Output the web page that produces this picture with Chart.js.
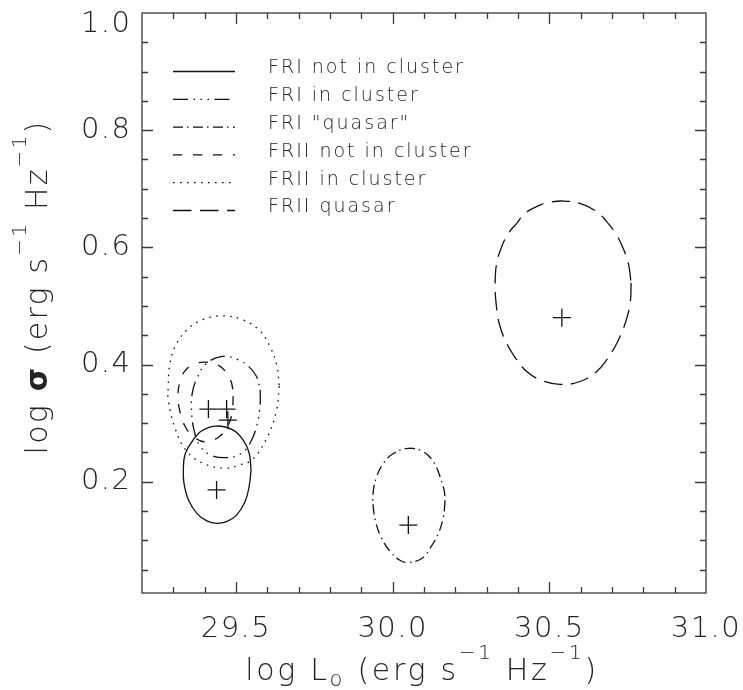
<!DOCTYPE html>
<html><head><meta charset="utf-8">
<script src="https://cdn.jsdelivr.net/npm/chart.js@4.4.1/dist/chart.umd.min.js"></script>
<style>html,body{margin:0;padding:0;background:#fff;}#wrap{width:743px;height:690px;position:relative;}</style>
</head><body><div id="wrap"><canvas id="c" width="743" height="690"></canvas></div>
<script>
// ---------- data ----------
const seriesLabels = ['FRI not in cluster', 'FRI in cluster', 'FRI "quasar"', 'FRII not in cluster', 'FRII in cluster', 'FRII quasar'];

const friNotInClusterX = [29.548, 29.542, 29.529, 29.502, 29.470, 29.438, 29.407, 29.375, 29.348, 29.334, 29.332, 29.337, 29.359, 29.391, 29.438, 29.491, 29.523, 29.542];
const friNotInClusterY = [0.220, 0.192, 0.166, 0.143, 0.132, 0.129, 0.133, 0.146, 0.169, 0.197, 0.220, 0.246, 0.268, 0.287, 0.295, 0.288, 0.271, 0.249];

const friInClusterX = [29.577, 29.577, 29.567, 29.545, 29.513, 29.465, 29.417, 29.385, 29.366, 29.358, 29.361, 29.376, 29.404, 29.455, 29.507, 29.542, 29.566];
const friInClusterY = [0.357, 0.331, 0.297, 0.266, 0.247, 0.241, 0.246, 0.261, 0.288, 0.322, 0.353, 0.377, 0.401, 0.414, 0.408, 0.396, 0.379];

const friQuasarX = [30.167, 30.162, 30.146, 30.119, 30.093, 30.050, 30.023, 29.992, 29.965, 29.947, 29.938, 29.938, 29.949, 29.970, 30.002, 30.050, 30.098, 30.130, 30.151, 30.165];
const friQuasarY = [0.166, 0.140, 0.112, 0.086, 0.069, 0.062, 0.066, 0.081, 0.103, 0.129, 0.157, 0.183, 0.209, 0.231, 0.248, 0.257, 0.251, 0.234, 0.209, 0.183];

const friiNotInClusterX = [29.491, 29.489, 29.478, 29.449, 29.404, 29.366, 29.337, 29.320, 29.315, 29.320, 29.337, 29.369, 29.404, 29.443, 29.468, 29.486];
const friiNotInClusterY = [0.346, 0.326, 0.300, 0.278, 0.268, 0.276, 0.295, 0.322, 0.348, 0.368, 0.389, 0.401, 0.404, 0.399, 0.387, 0.368];

const friiInClusterX = [29.638, 29.629, 29.597, 29.551, 29.513, 29.468, 29.396, 29.340, 29.305, 29.284, 29.284, 29.288, 29.305, 29.343, 29.391, 29.455, 29.523, 29.577, 29.609, 29.630];
const friiInClusterY = [0.363, 0.321, 0.273, 0.237, 0.229, 0.223, 0.231, 0.254, 0.292, 0.339, 0.365, 0.398, 0.430, 0.459, 0.476, 0.483, 0.476, 0.457, 0.430, 0.399];

const friiQuasarX = [30.761, 30.758, 30.742, 30.715, 30.683, 30.651, 30.598, 30.534, 30.470, 30.428, 30.396, 30.364, 30.340, 30.330, 30.327, 30.332, 30.348, 30.369, 30.396, 30.422, 30.470, 30.500, 30.545, 30.598, 30.651, 30.683, 30.710, 30.731, 30.752];
const friiQuasarY = [0.539, 0.505, 0.470, 0.436, 0.408, 0.388, 0.371, 0.366, 0.374, 0.388, 0.408, 0.436, 0.470, 0.505, 0.539, 0.573, 0.601, 0.624, 0.641, 0.658, 0.672, 0.677, 0.679, 0.675, 0.661, 0.644, 0.625, 0.604, 0.573];

// best-fit positions (crosses), same order as seriesLabels
const bestFitX = [29.438, 29.470, 30.050, 29.412, 29.474, 30.540];
const bestFitY = [0.186, 0.324, 0.126, 0.324, 0.305, 0.480];

const xTickValues = [29.5, 30.0, 30.5, 31.0];
const yTickValues = [0.2, 0.4, 0.6, 0.8, 1.0];
const xRange = [29.2, 31.0];
const yRange = [0.01, 1.0];
const xMinorStep = 0.1;
const yMinorStep = 0.05;

// ---------- styles ----------
const FONT = "'DejaVu Sans', 'Liberation Sans', sans-serif";
const INK = '#111';
const dashes = [[], [15, 5.5, 1.5, 5.5, 1.5, 5.5, 1.5, 5.5], [10, 4, 1.5, 4.5], [9.3, 10.7], [1.6, 5.4], [18.5, 8.5]];
const contourX = [friNotInClusterX, friInClusterX, friQuasarX, friiNotInClusterX, friiInClusterX, friiQuasarX];
const contourY = [friNotInClusterY, friInClusterY, friQuasarY, friiNotInClusterY, friiInClusterY, friiQuasarY];

const datasets = seriesLabels.map((label, i) => {
  const pts = contourX[i].map((x, j) => ({x: x, y: contourY[i][j]}));
  pts.push(pts[0]); // close the contour
  return {label, data: pts, showLine: true, tension: 0.4, pointRadius: 0, pointHoverRadius: 0,
    borderColor: INK, borderWidth: 1.3, borderDash: dashes[i], fill: false};
});
datasets.push({label: 'best fit', data: bestFitX.map((x, j) => ({x: x, y: bestFitY[j]})),
  showLine: false, pointStyle: 'cross', pointRadius: 9, borderColor: INK, borderWidth: 1.3, backgroundColor: INK});

// ---------- plugins ----------
function drawRich(ctx, parts, cx, baseY, spacing) {
  ctx.letterSpacing = spacing + 'px';
  let total = 0;
  parts.forEach(p => { ctx.font = (p.bold ? 'bold ' : '200 ') + p.size + 'px ' + FONT; p.w = ctx.measureText(p.t).width; total += p.w; });
  let x = cx - total / 2;
  ctx.textAlign = 'left'; ctx.textBaseline = 'alphabetic';
  parts.forEach(p => { ctx.font = (p.bold ? 'bold ' : '200 ') + p.size + 'px ' + FONT; ctx.fillText(p.t, x, baseY + (p.dy || 0)); x += p.w; });
}

const decor = {
  id: 'decor',
  beforeDraw(chart) { chart.ctx.letterSpacing = '1.5px'; },
  afterDraw(chart) {
    const {ctx, chartArea: a, scales} = chart;
    const xs = scales.x, ys = scales.y;
    ctx.save();
    ctx.letterSpacing = '0px';
    // frame and tick marks on all four sides
    ctx.strokeStyle = '#3a3a3a'; ctx.lineWidth = 1.3; ctx.setLineDash([]);
    ctx.strokeRect(a.left, a.top, a.right - a.left, a.bottom - a.top);
    ctx.beginPath();
    const nx = Math.round((xRange[1] - xRange[0]) / xMinorStep);
    for (let i = 1; i < nx; i++) {
      const v = xRange[0] + i * xMinorStep;
      const len = xTickValues.some(t => Math.abs(t - v) < 1e-6) ? 11 : 6;
      const px = Math.round(xs.getPixelForValue(v)) + 0.5;
      ctx.moveTo(px, a.bottom); ctx.lineTo(px, a.bottom - len);
      ctx.moveTo(px, a.top); ctx.lineTo(px, a.top + len);
    }
    for (let k = 1; k * yMinorStep < yRange[1] - 1e-6; k++) {
      const v = k * yMinorStep;
      if (v < yRange[0]) continue;
      const len = yTickValues.some(t => Math.abs(t - v) < 1e-6) ? 11 : 6;
      const py = Math.round(ys.getPixelForValue(v)) + 0.5;
      ctx.moveTo(a.left, py); ctx.lineTo(a.left + len, py);
      ctx.moveTo(a.right, py); ctx.lineTo(a.right - len, py);
    }
    ctx.stroke();

    // legend inside the plot
    ctx.strokeStyle = INK; ctx.lineWidth = 1.3;
    ctx.fillStyle = '#222';
    ctx.font = '200 19px ' + FONT;
    ctx.textAlign = 'left'; ctx.textBaseline = 'middle';
    seriesLabels.forEach((lab, i) => {
      const ly = 71.5 + 27.8 * i;
      ctx.setLineDash(dashes[i]);
      ctx.beginPath(); ctx.moveTo(173, ly); ctx.lineTo(235, ly); ctx.stroke();
      ctx.letterSpacing = '2px';
      ctx.fillText(lab, 268, ly - 3);
      ctx.letterSpacing = '0px';
    });
    ctx.setLineDash([]);

    // axis titles
    ctx.fillStyle = '#222';
    const cx = (a.left + a.right) / 2;
    drawRich(ctx, [
      {t: 'log L', size: 30}, {t: 'o', size: 21, dy: 6}, {t: ' (erg s', size: 30},
      {t: '\u22121', size: 20, dy: -21}, {t: ' Hz', size: 30}, {t: '\u22121', size: 20, dy: -21}, {t: ')', size: 30}
    ], cx - 2, 680, 2.7);
    ctx.save();
    ctx.translate(47, 287);
    ctx.rotate(-Math.PI / 2);
    drawRich(ctx, [
      {t: 'log ', size: 30}, {t: '\u03C3', size: 30, bold: true}, {t: ' (erg s', size: 30},
      {t: '\u22121', size: 20, dy: -21}, {t: ' Hz', size: 30}, {t: '\u22121', size: 20, dy: -21}, {t: ')', size: 30}
    ], 0, 0, 2.2);
    ctx.restore();
    ctx.restore();
    ctx.letterSpacing = '0px';
  }
};

new Chart(document.getElementById('c'), {
  type: 'scatter',
  data: {datasets},
  options: {
    responsive: false, animation: false, devicePixelRatio: 1,
    layout: {padding: {top: 13, right: 37, bottom: 0, left: 0}},
    plugins: {legend: {display: false}, tooltip: {enabled: false}},
    scales: {
      x: {
        type: 'linear', position: 'bottom', min: xRange[0], max: xRange[1],
        grid: {display: false, drawTicks: false}, border: {display: false},
        afterBuildTicks: s => { s.ticks = xTickValues.map(v => ({value: v})); },
        afterFit: s => { s.height = 97; s.paddingLeft = 0; s.paddingRight = 0; },
        ticks: {padding: 18.6, color: '#222', maxRotation: 0, autoSkip: false,
          font: {family: FONT, size: 29, weight: '200'},
          callback: v => Number(v).toFixed(1)}
      },
      y: {
        type: 'linear', position: 'left', min: yRange[0], max: yRange[1],
        grid: {display: false, drawTicks: false}, border: {display: false},
        afterBuildTicks: s => { s.ticks = yTickValues.map(v => ({value: v})); },
        afterFit: s => { s.width = 142; s.paddingTop = 0; s.paddingBottom = 0; },
        ticks: {padding: 10.5, color: '#222', autoSkip: false,
          font: {family: FONT, size: 29, weight: '200', lineHeight: 0.76},
          callback: v => (Math.abs(v - yRange[1]) < 1e-9 ? ['', Number(v).toFixed(1)] : Number(v).toFixed(1))}
      }
    }
  },
  plugins: [decor]
});
</script></body></html>
